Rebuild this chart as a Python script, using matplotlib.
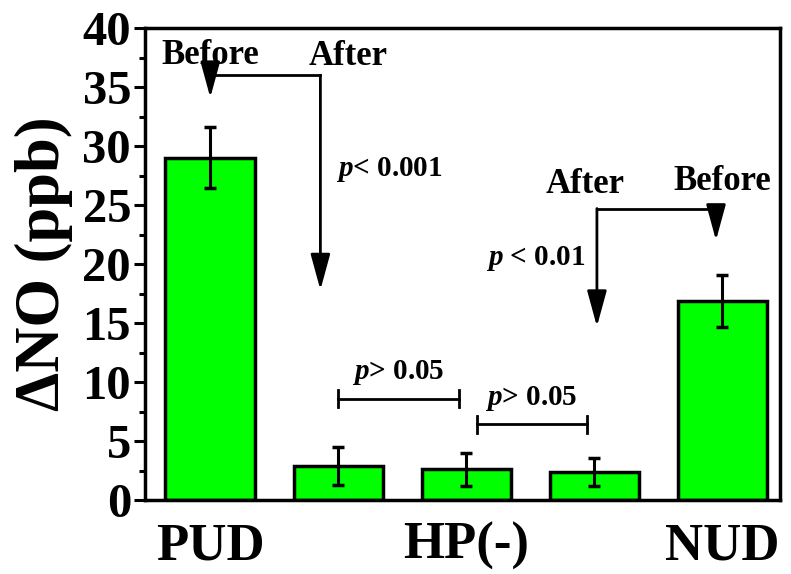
import matplotlib.pyplot as plt
from matplotlib.ticker import MultipleLocator

plt.rcParams['font.family'] = ['Liberation Serif', 'DejaVu Serif']
plt.rcParams['font.weight'] = 'bold'
plt.rcParams['mathtext.fontset'] = 'custom'
plt.rcParams['mathtext.it'] = 'Liberation Serif:italic:bold'
plt.rcParams['mathtext.rm'] = 'Liberation Serif:bold'
plt.rcParams['mathtext.bf'] = 'Liberation Serif:bold'

# mean change in exhaled NO per group, with standard error
groups = [1, 2, 3, 4, 5]
delta_no = [29.0, 2.85, 2.6, 2.4, 16.9]
errors = [2.6, 1.6, 1.4, 1.2, 2.2]
tick_pos = [1, 3, 5]
tick_labels = ['PUD', 'HP(-)', 'NUD']

fig = plt.figure(figsize=(7.91, 5.74), dpi=100)
ax = fig.add_axes([145 / 791, 74 / 574, 635 / 791, 472 / 574])

ax.bar(groups, delta_no, width=0.70, color='#00ff00', edgecolor='black', linewidth=2.5, zorder=2)
ax.errorbar(groups, delta_no, yerr=errors, fmt='none', ecolor='black',
            elinewidth=2.2, capsize=4, capthick=2.5, zorder=3)

ax.set_xlim(0.49, 5.45)
ax.set_ylim(0, 40)
ax.set_xticks(tick_pos)
ax.set_xticklabels(tick_labels, fontsize=38, fontweight='bold')
ax.tick_params(axis='x', length=0, pad=16)
ax.yaxis.set_major_locator(MultipleLocator(5))
ax.yaxis.set_minor_locator(MultipleLocator(2.5))
ax.tick_params(axis='y', which='major', direction='out', length=8, width=2.2,
               labelsize=35, pad=2)
ax.tick_params(axis='y', which='minor', direction='out', length=4, width=2.2)
for lbl in ax.get_yticklabels():
    lbl.set_fontweight('bold')
for sp in ax.spines.values():
    sp.set_linewidth(2.5)

ax.set_ylabel('ΔNO (ppb)', fontsize=45, fontweight='bold', labelpad=7)


def arrow(x0, y0, x1, y1):
    ax.annotate('', xy=(x1, y1), xytext=(x0, y0),
                arrowprops=dict(arrowstyle='-|>,head_length=1.1,head_width=0.3',
                                lw=2, color='black', shrinkA=0, shrinkB=0,
                                mutation_scale=20))


# PUD before -> after
ax.plot([1.0, 1.86], [36.0, 36.0], color='black', lw=2)
arrow(1.0, 36.0, 1.0, 34.1)
arrow(1.86, 36.0, 1.86, 17.8)
ax.text(1.0, 37.7, 'Before', ha='center', va='center', fontsize=25, fontweight='bold')
ax.text(2.08, 37.6, 'After', ha='center', va='center', fontsize=25, fontweight='bold')
ax.text(1.98, 28.0, r'$p$< 0.001', ha='left', va='center', fontsize=21, fontweight='bold')

# NUD before -> after
ax.plot([4.02, 4.95], [24.7, 24.7], color='black', lw=2)
arrow(4.95, 24.7, 4.95, 22.0)
arrow(4.02, 24.7, 4.02, 14.7)
ax.text(3.93, 26.7, 'After', ha='center', va='center', fontsize=25, fontweight='bold')
ax.text(5.0, 27.0, 'Before', ha='center', va='center', fontsize=25, fontweight='bold')
ax.text(3.93, 20.5, r'$p$ < 0.01', ha='right', va='center', fontsize=21, fontweight='bold')

# HP(-) comparisons
for xa, xb, yb in [(2.0, 2.94, 8.6), (3.08, 3.94, 6.4)]:
    ax.plot([xa, xb], [yb, yb], color='black', lw=2)
    ax.plot([xa, xa], [yb - 0.7, yb + 0.7], color='black', lw=2)
    ax.plot([xb, xb], [yb - 0.7, yb + 0.7], color='black', lw=2)
    ax.text((xa + xb) / 2, yb + 2.2, r'$p$> 0.05', ha='center', va='center',
            fontsize=21, fontweight='bold')

fig.savefig('out.png', dpi=100)
